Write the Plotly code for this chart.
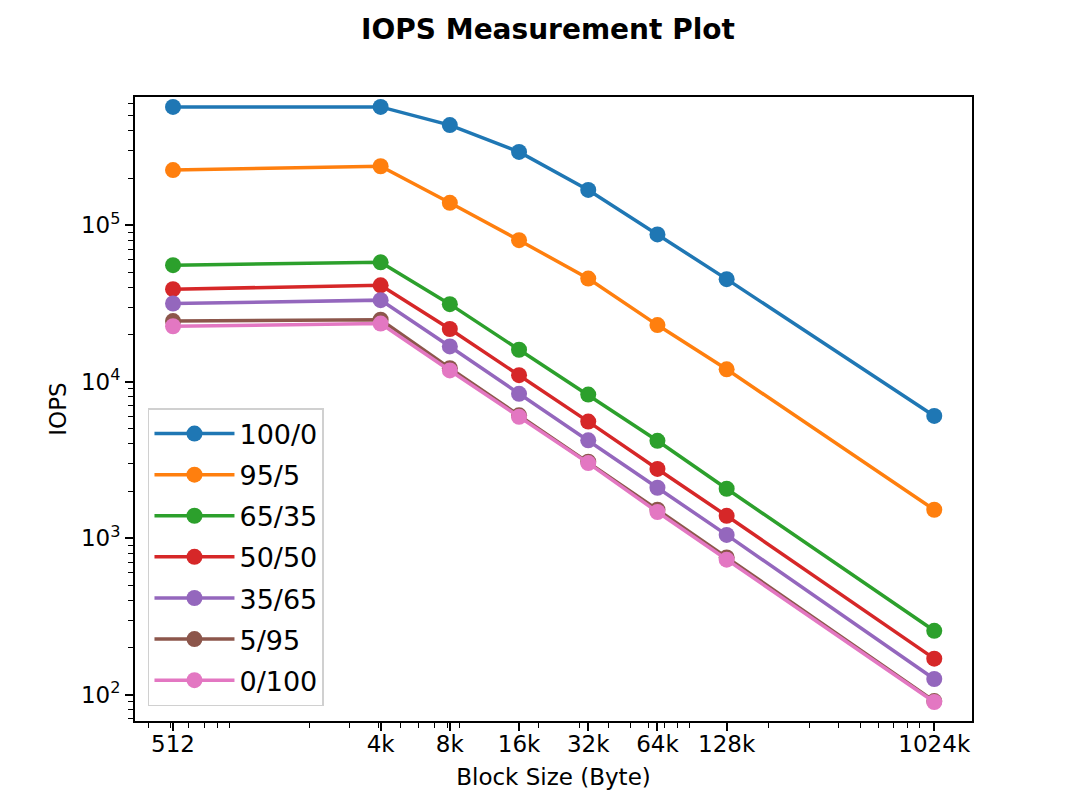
import plotly.graph_objects as go

block_sizes = [512, 4096, 8192, 16384, 32768, 65536, 131072, 1048576]
tick_labels = ["512", "4k", "8k", "16k", "32k", "64k", "128k", "1024k"]

series_names = ["100/0", "95/5", "65/35", "50/50", "35/65", "5/95", "0/100"]
iops_100_0 = [570000, 570000, 436000, 294000, 168000, 87300, 45200, 6040]
iops_95_5 = [225000, 238000, 139000, 80200, 45600, 23000, 12000, 1520]
iops_65_35 = [55500, 57900, 31300, 16000, 8270, 4190, 2070, 256]
iops_50_50 = [39000, 41300, 21700, 11000, 5560, 2770, 1390, 170]
iops_35_65 = [31600, 33200, 16800, 8360, 4220, 2100, 1050, 126]
iops_5_95 = [24400, 24900, 12200, 6100, 3080, 1520, 754, 91]
iops_0_100 = [22600, 23500, 11800, 5960, 3020, 1470, 729, 89.8]

series_values = [iops_100_0, iops_95_5, iops_65_35, iops_50_50,
                 iops_35_65, iops_5_95, iops_0_100]
colors = ["#1f77b4", "#ff7f0e", "#2ca02c", "#d62728", "#9467bd", "#8c564b", "#e377c2"]

y_tick_vals = [100, 1000, 10000, 100000]
y_tick_text = ["10<sup>2</sup>", "10<sup>3</sup>", "10<sup>4</sup>", "10<sup>5</sup>"]

x_minor = [k * 10 ** n for n in range(2, 6) for k in range(2, 10)]
y_minor = [k * 10 ** n for n in range(1, 6) for k in range(2, 10)]

fig = go.Figure()
for i, (name, vals) in enumerate(zip(series_names, series_values)):
    fig.add_trace(go.Scatter(
        x=block_sizes, y=vals, name=name, mode="lines+markers",
        legendgroup=f"g{i}",
        line=dict(color=colors[i], width=3.5),
        marker=dict(color=colors[i], size=16),
    ))

axis_common = dict(
    type="log", showgrid=False, zeroline=False,
    showline=True, linecolor="black", linewidth=1.9, mirror=True,
    ticks="outside", ticklen=8, tickwidth=1.9, tickcolor="black",
    tickfont=dict(family="DejaVu Sans", size=23, color="black"),
)

fig.update_layout(
    width=1080, height=810,
    margin=dict(l=127, r=116, t=89, b=97),
    paper_bgcolor="white", plot_bgcolor="white",
    font=dict(family="DejaVu Sans", color="black"),
    title=dict(text="<b>IOPS Measurement Plot</b>", x=0.5, xanchor="center",
               y=1 - 21 / 810, yanchor="middle", yref="container",
               font=dict(family="DejaVu Sans", size=28, color="black")),
    xaxis=dict(**axis_common,
               range=[2.5439, 6.1847],
               tickmode="array", tickvals=block_sizes, ticktext=tick_labels,
               ticklabelstandoff=-7,
               title=dict(text="Block Size (Byte)", standoff=13,
                          font=dict(family="DejaVu Sans", size=23, color="black")),
               minor=dict(tickmode="array", tickvals=x_minor, ticks="outside",
                          ticklen=5, tickwidth=1.4, tickcolor="black")),
    yaxis=dict(**axis_common,
               range=[1.832, 5.819],
               tickmode="array", tickvals=y_tick_vals, ticktext=y_tick_text,
               title=dict(text="IOPS", standoff=8,
                          font=dict(family="DejaVu Sans", size=23, color="black")),
               minor=dict(tickmode="array", tickvals=y_minor, ticks="outside",
                          ticklen=5, tickwidth=1.4, tickcolor="black")),
    legend=dict(x=0.0155, y=0.024, xanchor="left", yanchor="bottom",
                bgcolor="rgba(255,255,255,0.8)", bordercolor="#d0d0d0", borderwidth=1.5,
                font=dict(family="DejaVu Sans", size=27, color="black"),
                itemwidth=80, tracegroupgap=3),
    showlegend=True,
)

fig.write_html("out.html")
